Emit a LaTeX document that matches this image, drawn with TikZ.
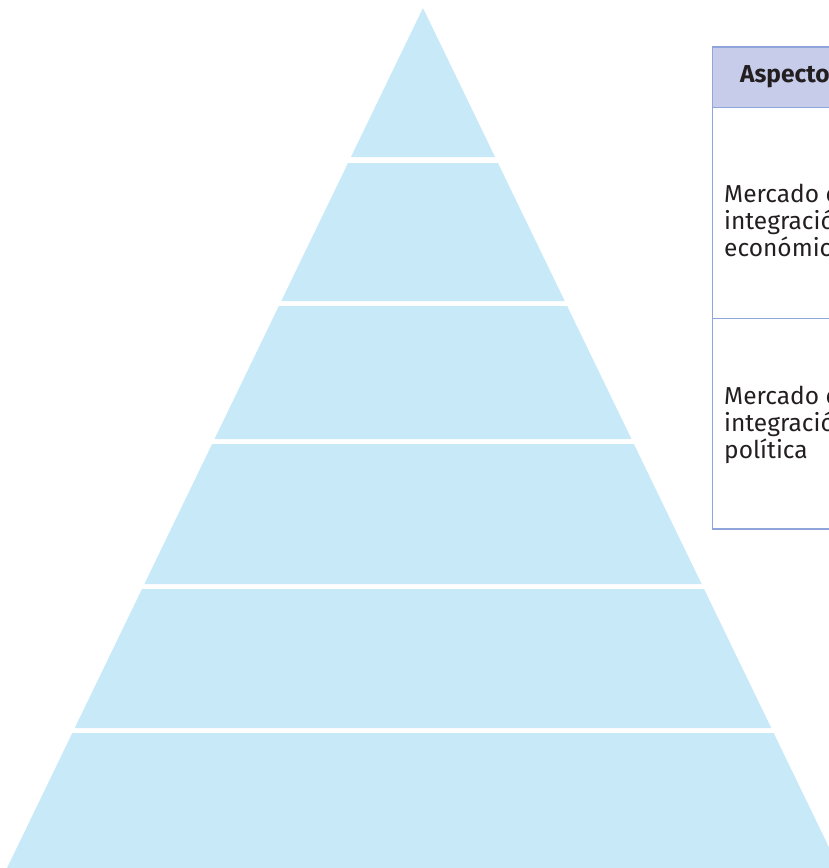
\documentclass[tikz,border=0pt]{standalone}
\usepackage{fontspec}
\setmainfont{Fira Sans}
\definecolor{capa}{HTML}{C8E9F8}
\definecolor{borde}{HTML}{8FA5DB}
\definecolor{cabecera}{HTML}{C6CCEA}
\definecolor{texto}{HTML}{231F20}

\begin{document}
\begin{tikzpicture}[x=1pt,y=-1pt,
  every node/.style={font=\fontsize{24.5}{27}\selectfont,text=texto,inner sep=0pt}]
  \useasboundingbox (0,0) rectangle (829,868);
  \clip (0,0) rectangle (829,868);
  % piramide
  \foreach \arriba/\abajo in {8/157,163/301,306/439,444/584,589/728,733/868}
    \fill[capa] ({423-0.4837*(\arriba-8)},\arriba) -- ({423+0.4837*(\arriba-8)},\arriba)
      -- ({423+0.4837*(\abajo-8)},\abajo) -- ({423-0.4837*(\abajo-8)},\abajo) -- cycle;
  % tabla
  \fill[cabecera] (712.5,47) rectangle (870,107);
  \draw[borde,line width=1.3pt] (870,47) -- (712.5,47) -- (712.5,529) -- (870,529);
  \draw[borde,line width=1pt] (712.5,107) -- (870,107);
  \draw[borde,line width=1pt] (712.5,318) -- (870,318);
  \node[anchor=west,font=\fontsize{24.5}{27}\selectfont\bfseries] (aspecto) at (740,77) {Aspecto};
  \node[anchor=west,align=left] (fila1) at (724,220) {Mercado común,\\integración\\económica};
  \node[anchor=west,align=left] (fila2) at (724,424) {Mercado común,\\integración\\política};
\end{tikzpicture}
\end{document}
